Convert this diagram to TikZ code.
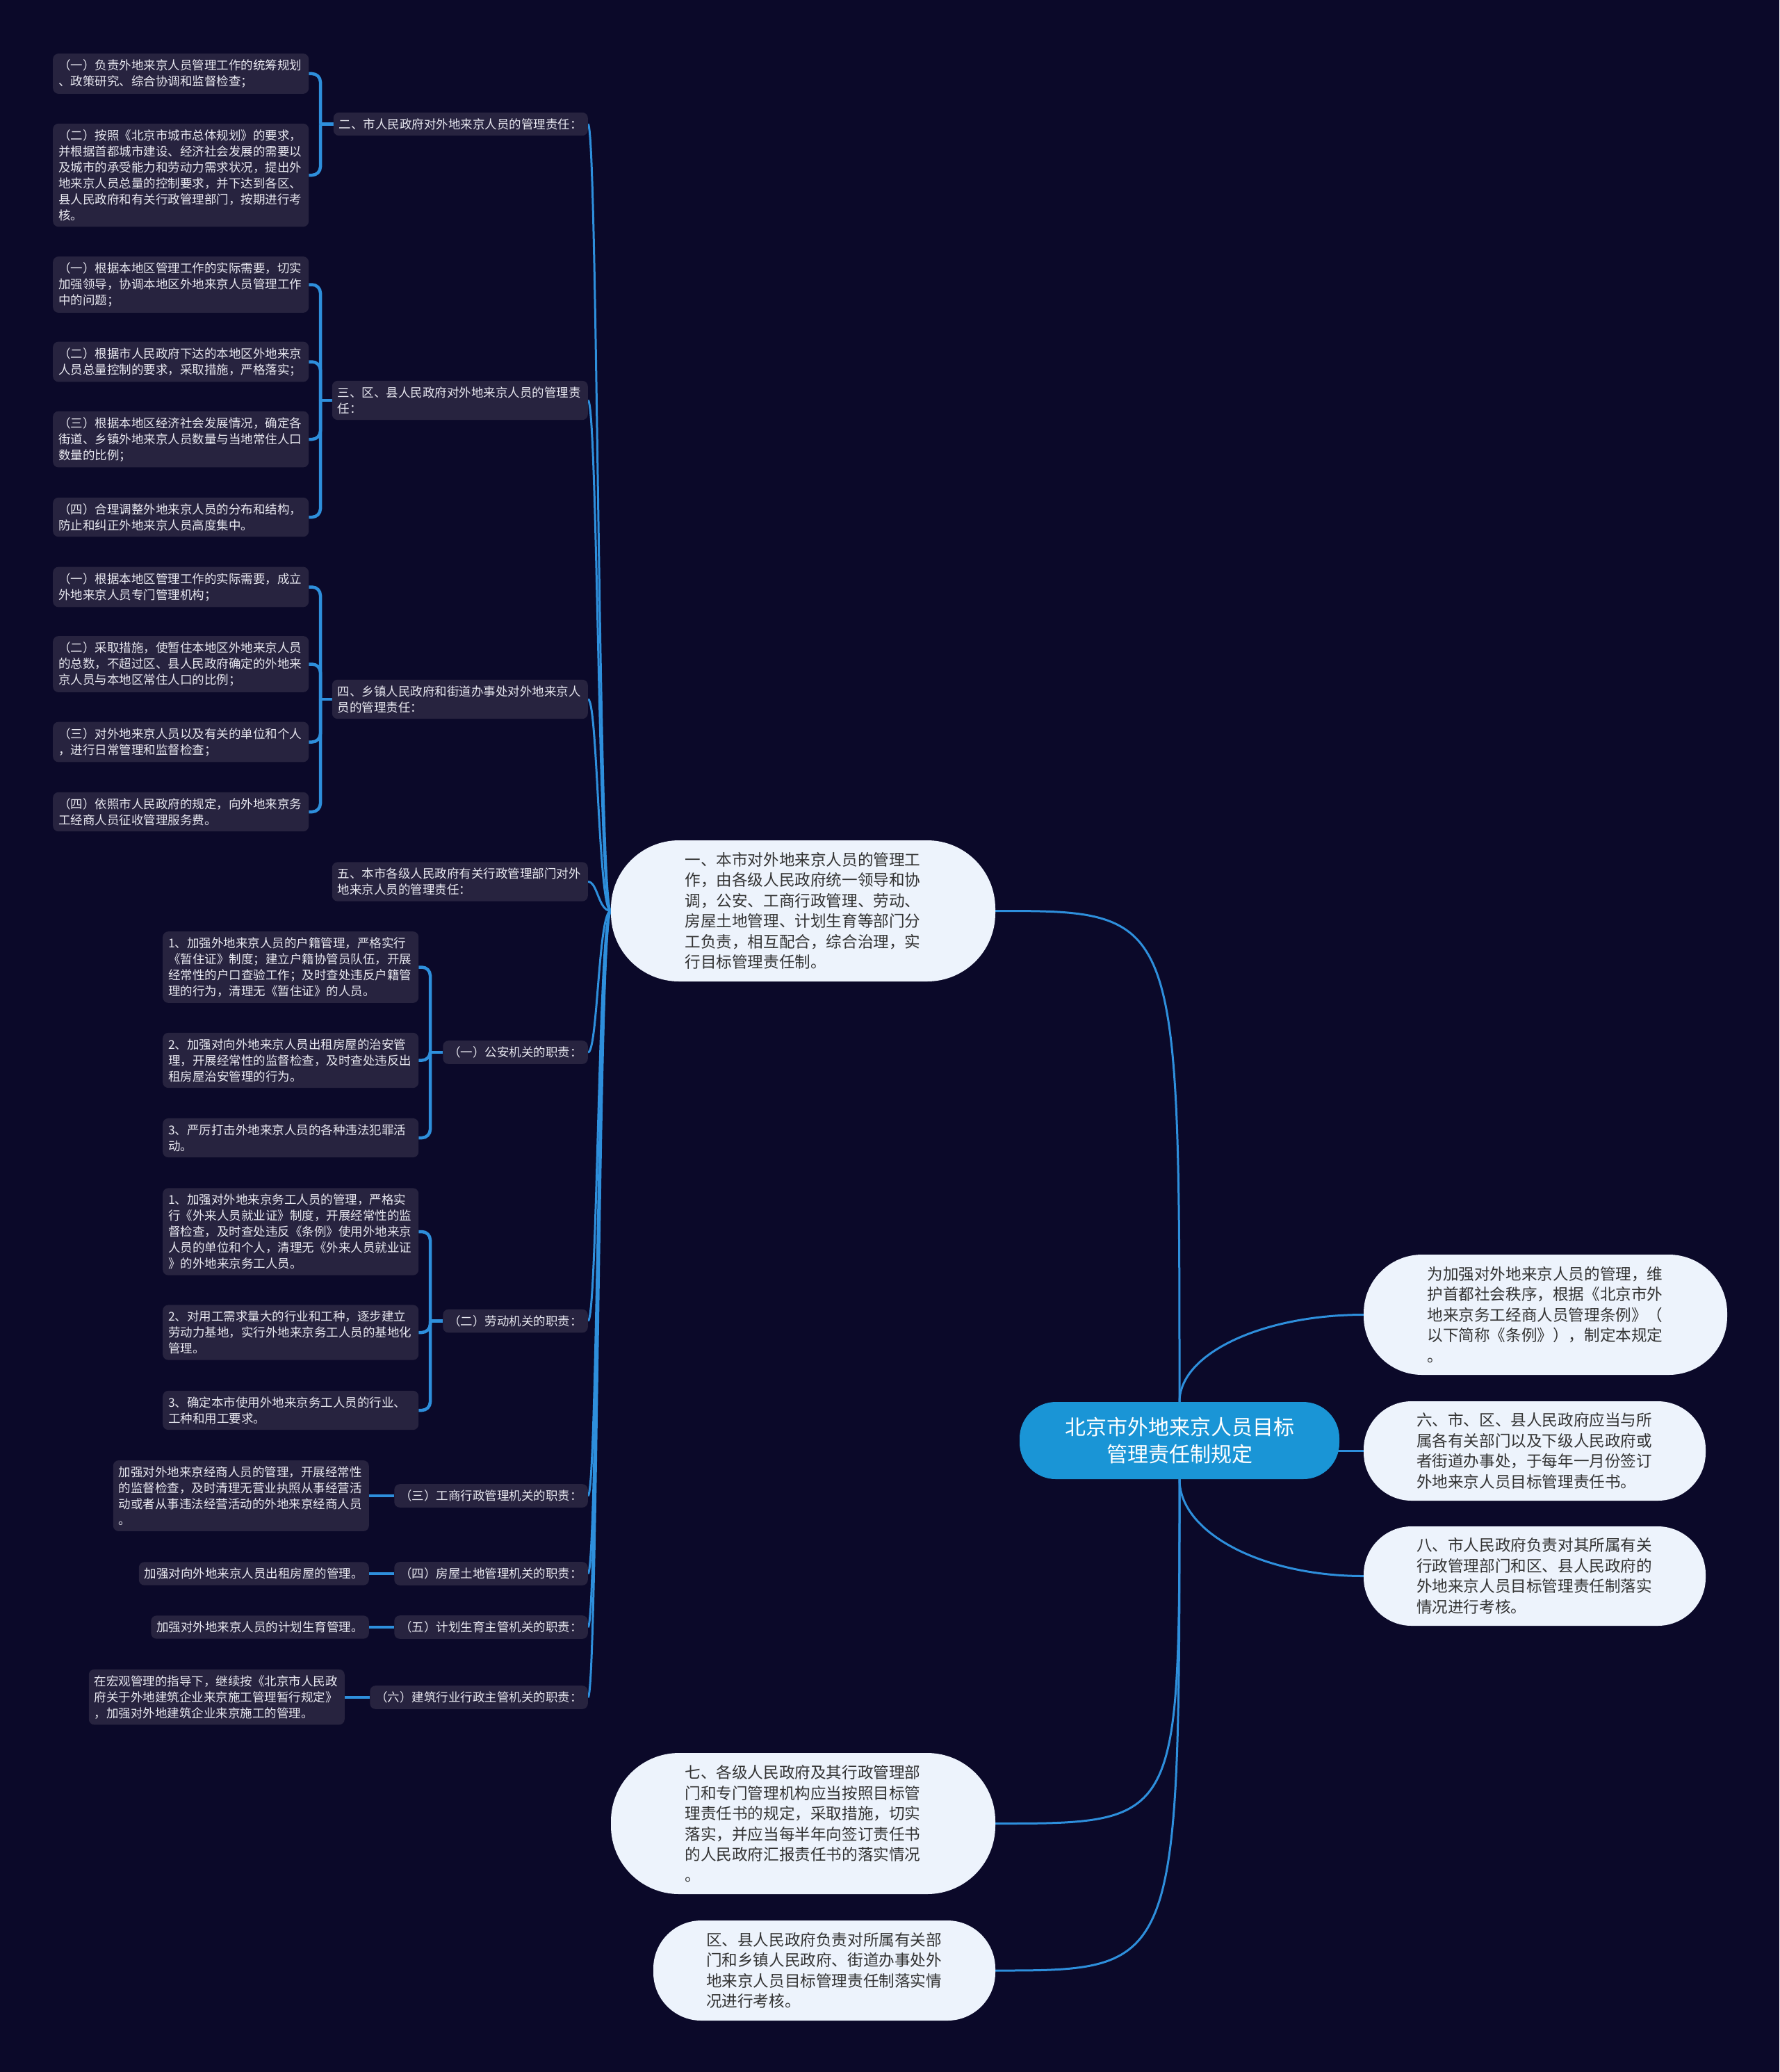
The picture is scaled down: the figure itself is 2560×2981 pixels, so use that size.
\documentclass[tikz,border=0pt]{standalone}
\usepackage{fontspec}
\setmainfont{Noto Sans CJK SC}
\usetikzlibrary{calc}
\definecolor{bgc}{HTML}{0B0929}
\definecolor{boxc}{HTML}{27233F}
\definecolor{boxtxt}{HTML}{E8E8F0}
\definecolor{pillc}{HTML}{EDF3FC}
\definecolor{pilltxt}{HTML}{333333}
\definecolor{rootc}{HTML}{1A95D6}
\definecolor{linec}{HTML}{2E8FDC}
\pgfdeclarelayer{bg}
\pgfsetlayers{bg,main}
\tikzset{
  dbox/.style={fill=boxc, text=boxtxt, rounded corners=8pt, inner xsep=8pt, inner ysep=8.5pt, align=left, font=\fontsize{17.5pt}{23pt}\selectfont},
  wbox/.style={dbox, text width=352pt},
  pill/.style n args={3}{fill=pillc, text=pilltxt, rounded corners=#3, minimum width=#1, minimum height=#2, inner sep=0pt, text width=340pt, align=left, font=\fontsize{22.6pt}{29.5pt}\selectfont},
  rootbox/.style={fill=rootc, text=white, rounded corners=52pt, minimum width=460pt, minimum height=111pt, align=center, font=\fontsize{30pt}{39pt}\selectfont},
  conn/.style={draw=linec, line width=3pt},
  brk/.style={draw=linec, line width=4.5pt, rounded corners=12pt},
}
\begin{document}
\begin{tikzpicture}[x=1pt,y=-1pt]
\useasboundingbox (0,0) rectangle (2560,2981);

% root and main branches
\node[rootbox] (root) at (1697,2072.5) {北京市外地来京人员目标\\管理责任制规定};
\node[pill={523pt}{173pt}{84pt}] (R1) at (2223.5,1891.5) {为加强对外地来京人员的管理，维\\护首都社会秩序，根据《北京市外\\地来京务工经商人员管理条例》（\\以下简称《条例》），制定本规定\\。};
\node[pill={492pt}{143pt}{69pt}] (R2) at (2208,2087.5) {六、市、区、县人民政府应当与所\\属各有关部门以及下级人民政府或\\者街道办事处，于每年一月份签订\\外地来京人员目标管理责任书。};
\node[pill={492pt}{143pt}{69pt}] (R3) at (2208,2267.5) {八、市人民政府负责对其所属有关\\行政管理部门和区、县人民政府的\\外地来京人员目标管理责任制落实\\情况进行考核。};
\node[pill={553pt}{203pt}{98pt}] (L1) at (1155.5,1310.5) {一、本市对外地来京人员的管理工\\作，由各级人民政府统一领导和协\\调，公安、工商行政管理、劳动、\\房屋土地管理、计划生育等部门分\\工负责，相互配合，综合治理，实\\行目标管理责任制。};
\node[pill={553pt}{203pt}{98pt}] (L7) at (1155.5,2623.5) {七、各级人民政府及其行政管理部\\门和专门管理机构应当按照目标管\\理责任书的规定，采取措施，切实\\落实，并应当每半年向签订责任书\\的人民政府汇报责任书的落实情况\\。};
\node[pill={492pt}{144pt}{69pt}] (L9) at (1186,2835) {区、县人民政府负责对所属有关部\\门和乡镇人民政府、街道办事处外\\地来京人员目标管理责任制落实情\\况进行考核。};

% level 2
\node[dbox, anchor=east] (n2) at (846,178.5) {二、市人民政府对外地来京人员的管理责任：};
\node[wbox, anchor=east] (n3) at (846,576) {三、区、县人民政府对外地来京人员的管理责\\任：};
\node[wbox, anchor=east] (n4) at (846,1006) {四、乡镇人民政府和街道办事处对外地来京人\\员的管理责任：};
\node[wbox, anchor=east] (n5) at (846,1268.5) {五、本市各级人民政府有关行政管理部门对外\\地来京人员的管理责任：};
\node[dbox, anchor=east] (g1) at (846,1514) {（一）公安机关的职责：};
\node[dbox, anchor=east] (g2) at (846,1900.5) {（二）劳动机关的职责：};
\node[dbox, anchor=east] (g3) at (846,2152) {（三）工商行政管理机关的职责：};
\node[dbox, anchor=east] (g4) at (846,2264) {（四）房屋土地管理机关的职责：};
\node[dbox, anchor=east] (g5) at (846,2341) {（五）计划生育主管机关的职责：};
\node[dbox, anchor=east] (g6) at (846,2442) {（六）建筑行业行政主管机关的职责：};

% leaves of 二
\node[wbox, anchor=west] (a1) at (76,106) {（一）负责外地来京人员管理工作的统筹规划\\、政策研究、综合协调和监督检查；};
\node[wbox, anchor=west] (a2) at (76,252) {（二）按照《北京市城市总体规划》的要求，\\并根据首都城市建设、经济社会发展的需要以\\及城市的承受能力和劳动力需求状况，提出外\\地来京人员总量的控制要求，并下达到各区、\\县人民政府和有关行政管理部门，按期进行考\\核。};
% leaves of 三
\node[wbox, anchor=west] (b1) at (76,409.5) {（一）根据本地区管理工作的实际需要，切实\\加强领导，协调本地区外地来京人员管理工作\\中的问题；};
\node[wbox, anchor=west] (b2) at (76,520.5) {（二）根据市人民政府下达的本地区外地来京\\人员总量控制的要求，采取措施，严格落实；};
\node[wbox, anchor=west] (b3) at (76,632) {（三）根据本地区经济社会发展情况，确定各\\街道、乡镇外地来京人员数量与当地常住人口\\数量的比例；};
\node[wbox, anchor=west] (b4) at (76,744) {（四）合理调整外地来京人员的分布和结构，\\防止和纠正外地来京人员高度集中。};
% leaves of 四
\node[wbox, anchor=west] (c1) at (76,844.5) {（一）根据本地区管理工作的实际需要，成立\\外地来京人员专门管理机构；};
\node[wbox, anchor=west] (c2) at (76,955.5) {（二）采取措施，使暂住本地区外地来京人员\\的总数，不超过区、县人民政府确定的外地来\\京人员与本地区常住人口的比例；};
\node[wbox, anchor=west] (c3) at (76,1067.5) {（三）对外地来京人员以及有关的单位和个人\\，进行日常管理和监督检查；};
\node[wbox, anchor=west] (c4) at (76,1168) {（四）依照市人民政府的规定，向外地来京务\\工经商人员征收管理服务费。};
% leaves of 公安
\node[wbox, anchor=west] (p1) at (234,1391.5) {1、加强外地来京人员的户籍管理，严格实行\\《暂住证》制度；建立户籍协管员队伍，开展\\经常性的户口查验工作；及时查处违反户籍管\\理的行为，清理无《暂住证》的人员。};
\node[wbox, anchor=west] (p2) at (234,1525.5) {2、加强对向外地来京人员出租房屋的治安管\\理，开展经常性的监督检查，及时查处违反出\\租房屋治安管理的行为。};
\node[wbox, anchor=west] (p3) at (234,1637) {3、严厉打击外地来京人员的各种违法犯罪活\\动。};
% leaves of 劳动
\node[wbox, anchor=west] (q1) at (234,1772) {1、加强对外地来京务工人员的管理，严格实\\行《外来人员就业证》制度，开展经常性的监\\督检查，及时查处违反《条例》使用外地来京\\人员的单位和个人，清理无《外来人员就业证\\》的外地来京务工人员。};
\node[wbox, anchor=west] (q2) at (234,1917) {2、对用工需求量大的行业和工种，逐步建立\\劳动力基地，实行外地来京务工人员的基地化\\管理。};
\node[wbox, anchor=west] (q3) at (234,2029) {3、确定本市使用外地来京务工人员的行业、\\工种和用工要求。};
% single leaves
\node[wbox, anchor=east] (s3) at (531,2152) {加强对外地来京经商人员的管理，开展经常性\\的监督检查，及时清理无营业执照从事经营活\\动或者从事违法经营活动的外地来京经商人员\\。};
\node[dbox, anchor=east] (s4) at (531,2264) {加强对向外地来京人员出租房屋的管理。};
\node[dbox, anchor=east] (s5) at (531,2341) {加强对外地来京人员的计划生育管理。};
\node[wbox, anchor=east] (s6) at (496,2441.5) {在宏观管理的指导下，继续按《北京市人民政\\府关于外地建筑企业来京施工管理暂行规定》\\，加强对外地建筑企业来京施工的管理。};

% junction points of the brackets
\coordinate (j2) at (461,178.5);
\coordinate (j3) at (461,576);
\coordinate (j4) at (461,1006);
\coordinate (jg1) at (619,1514);
\coordinate (jg2) at (619,1900.5);

\begin{pgfonlayer}{bg}
\fill[bgc] (0,0) rectangle (2560,2981);
% root connectors
\draw[conn] (root.north) .. controls ($(root.north)!0.552!(root.north |- R1.west)$) and ($(R1.west)!0.552!(root.north |- R1.west)$) .. (R1.west);
\draw[conn] (root.center |- R2.west) -- (R2.west);
\draw[conn] (root.south) .. controls ($(root.south)!0.552!(root.south |- R3.west)$) and ($(R3.west)!0.552!(root.south |- R3.west)$) .. (R3.west);
\draw[conn] (root.north) .. controls (root.north |- L1.east) .. (L1.east);
\draw[conn] (root.south) .. controls (root.south |- L7.east) .. (L7.east);
\draw[conn] (root.south) .. controls (root.south |- L9.east) .. (L9.east);
% L1 to level 2
\foreach \n in {n2,n3,n4,n5,g1,g2,g3,g4,g5,g6}
  \draw[conn] (L1.west) .. controls +(-18,0) and +(14,0) .. (\n.east);
% brackets
\draw[brk] (n2.west) -- (j2);
\foreach \l in {a1,a2} \draw[brk] (j2) |- (\l.east);
\draw[brk] (n3.west) -- (j3);
\foreach \l in {b1,b2,b3,b4} \draw[brk] (j3) |- (\l.east);
\draw[brk] (n4.west) -- (j4);
\foreach \l in {c1,c2,c3,c4} \draw[brk] (j4) |- (\l.east);
\draw[brk] (g1.west) -- (jg1);
\foreach \l in {p1,p2,p3} \draw[brk] (jg1) |- (\l.east);
\draw[brk] (g2.west) -- (jg2);
\foreach \l in {q1,q2,q3} \draw[brk] (jg2) |- (\l.east);
\draw[brk] (g3.west) -- (g3.west -| s3.east);
\draw[brk] (g4.west) -- (g4.west -| s4.east);
\draw[brk] (g5.west) -- (g5.west -| s5.east);
\draw[brk] (g6.west) -- (g6.west -| s6.east);
\end{pgfonlayer}
\end{tikzpicture}
\end{document}
